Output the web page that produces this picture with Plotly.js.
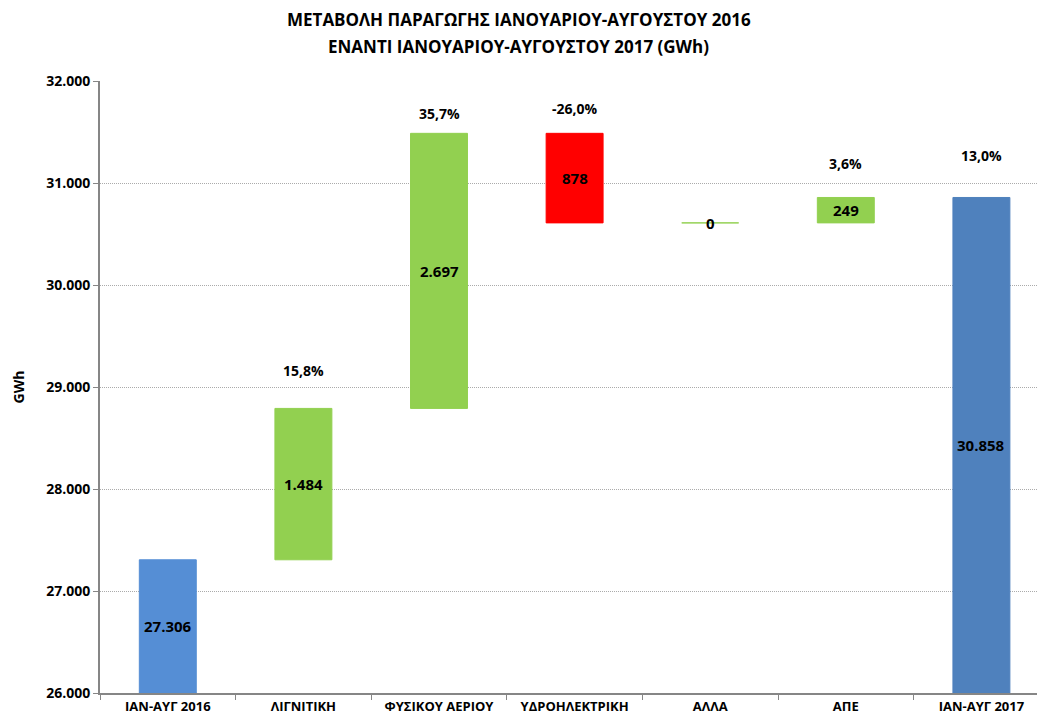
<!DOCTYPE html>
<html><head><meta charset="utf-8">
<script src="https://cdn.plot.ly/plotly-3.0.1.min.js"></script>
<style>body{margin:0;background:#fff}#c{width:1037px;height:720px}</style>
</head><body><div id="c"></div>
<script>
const categories = ["ΙΑΝ-ΑΥΓ 2016","ΛΙΓΝΙΤΙΚΗ","ΦΥΣΙΚΟΥ ΑΕΡΙΟΥ","ΥΔΡΟΗΛΕΚΤΡΙΚΗ","ΑΛΛΑ","ΑΠΕ","ΙΑΝ-ΑΥΓ 2017"];
const startValue = 27306;
const deltas = [1484, 2697, -878, 0, 249];
const endValue = 30858;
const pctLabels = ["", "15,8%", "35,7%", "-26,0%", "", "3,6%", "13,0%"];
const axisMin = 26000;

const colors = ["#558ED5","#92D050","#92D050","#FF0000","#92D050","#92D050","#4F81BD"];
const pctShift = [0, 38, 20, 25, 0, 34, 42];

function fmt(n){ return Math.abs(n).toString().replace(/\B(?=(\d{3})+(?!\d))/g,"."); }

const base = [], height = [], labels = [];
base.push(axisMin); height.push(startValue - axisMin); labels.push(fmt(startValue));
let run = startValue;
deltas.forEach(d => {
  const lo = Math.min(run, run + d);
  base.push(lo); height.push(Math.abs(d)); labels.push(fmt(d));
  run += d;
});
base.push(axisMin); height.push(endValue - axisMin); labels.push(fmt(endValue));

const trace = {
  type: "bar", x: categories, y: height, base: base,
  width: 0.42,
  marker: {color: colors, line: {color: colors, width: 1}},
  hoverinfo: "none"
};

const ann = [];
categories.forEach((c, i) => {
  ann.push({x: c, y: base[i] + height[i]/2, text: "<b>" + labels[i] + "</b>", showarrow: false,
    font: {size: 15, color: "#000", family: "Open Sans, sans-serif"}});
  if (pctLabels[i]) ann.push({x: c, y: base[i] + height[i], yshift: pctShift[i], text: "<b>" + pctLabels[i] + "</b>",
    showarrow: false, font: {size: 14, color: "#000", family: "Open Sans, sans-serif"}});
});
ann.push({xref: "paper", yref: "paper", x: 0.5 * (1037 + 0) / 937 - 100/937, y: 1, yshift: 62, xanchor: "center", yanchor: "middle",
  text: "<b>ΜΕΤΑΒΟΛΗ ΠΑΡΑΓΩΓΗΣ ΙΑΝΟΥΑΡΙΟΥ-ΑΥΓΟΥΣΤΟΥ 2016</b>", showarrow: false, font: {size: 17, color: "#000"}});
ann.push({xref: "paper", yref: "paper", x: 0.5 * (1037 + 0) / 937 - 100/937, y: 1, yshift: 35, xanchor: "center", yanchor: "middle",
  text: "<b>ΕΝΑΝΤΙ ΙΑΝΟΥΑΡΙΟΥ-ΑΥΓΟΥΣΤΟΥ 2017 (GWh)</b>", showarrow: false, font: {size: 17, color: "#000"}});

const layout = {
  width: 1037, height: 720,
  margin: {l: 100, r: 0, t: 81, b: 27},
  separators: ",.",
  paper_bgcolor: "#fff", plot_bgcolor: "#fff",
  showlegend: false,
  font: {family: "Open Sans, sans-serif", color: "#000"},
  xaxis: {
    type: "category", range: [-0.5, 6.41], showgrid: false,
    showline: true, linecolor: "#868686", linewidth: 2,
    ticks: "outside", tickson: "boundaries", ticklen: 5, tickcolor: "#868686",
    tickfont: {size: 13, color: "#000"}, tickprefix: "<b>", ticksuffix: "</b>", fixedrange: true
  },
  yaxis: {
    range: [26000, 32000], dtick: 1000, tickformat: ",d",
    showline: true, linecolor: "#868686", linewidth: 2,
    ticks: "outside", ticklen: 5, tickcolor: "#868686",
    showgrid: true, gridcolor: "#ABABAB", griddash: "1px,1px", gridwidth: 1,
    zeroline: false,
    tickfont: {size: 14, color: "#000"}, tickprefix: "<b>", ticksuffix: "</b>",
    title: {text: "<b>GWh</b>", font: {size: 14, color: "#000"}, standoff: 18}
  },
  annotations: ann
};
Plotly.newPlot("c", [trace], layout, {staticPlot: true});
</script></body></html>
